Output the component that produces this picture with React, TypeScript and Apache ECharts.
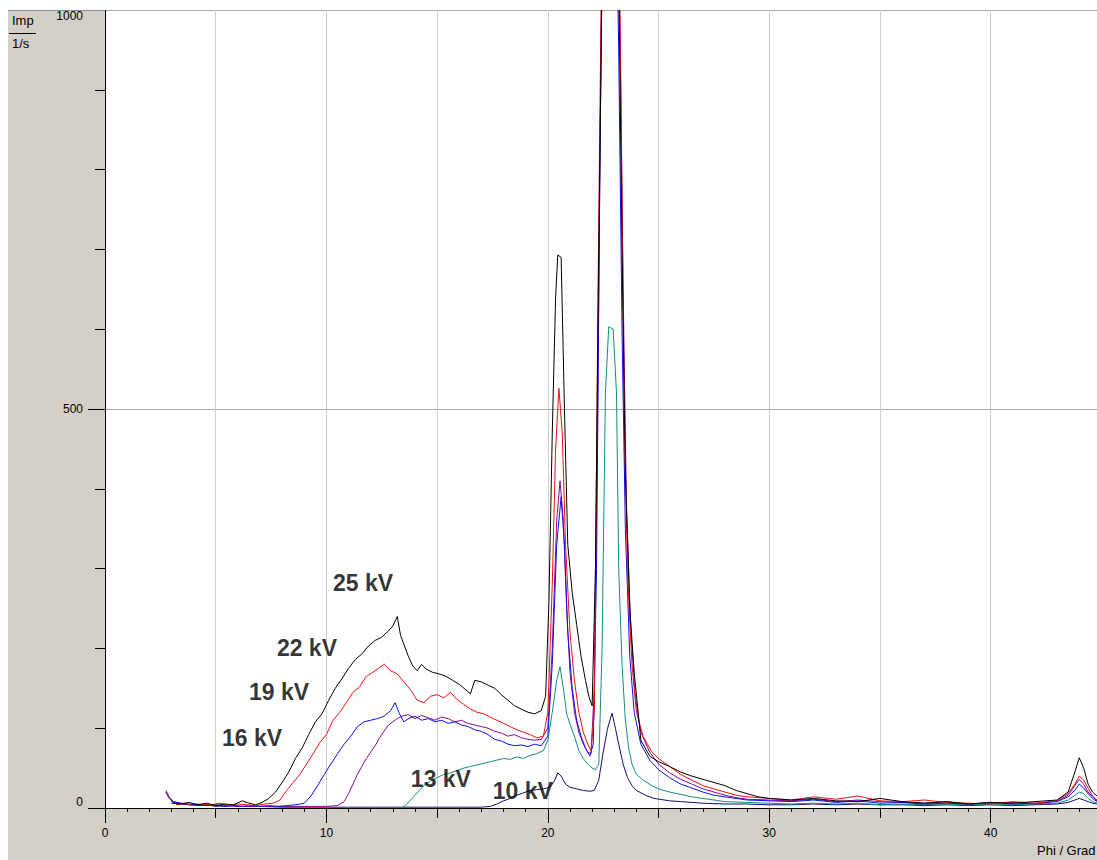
import React, { useEffect, useRef } from "react";
import * as echarts from "echarts";

const seriesNames = ["25 kV", "22 kV", "19 kV", "16 kV", "13 kV", "10 kV"];
const seriesColors = ["#000000", "#ee1111", "#1010ee", "#8a0a8a", "#10907a", "#101070"];

const kv25: number[][] = [
  [3.0, 6], [3.4, 5], [3.8, 7], [4.2, 4], [4.6, 6], [5.0, 3], [5.4, 5], [5.8, 4], [6.2, 9], [6.5, 6],
  [6.8, 4], [7.1, 7], [7.4, 12], [7.7, 20], [8.0, 32], [8.3, 45], [8.6, 62], [8.9, 75], [9.2, 92],
  [9.5, 108], [9.8, 118], [10.1, 135], [10.4, 150], [10.7, 162], [11.0, 175], [11.3, 186], [11.6, 193],
  [11.9, 203], [12.2, 210], [12.5, 214], [12.8, 222], [13.0, 228], [13.2, 240], [13.35, 216], [13.5, 205],
  [13.7, 190], [13.9, 178], [14.1, 172], [14.3, 180], [14.5, 174], [14.8, 170], [15.1, 168], [15.4, 165],
  [15.7, 160], [16.0, 155], [16.3, 148], [16.5, 143], [16.7, 160], [17.0, 158], [17.3, 154], [17.6, 150],
  [17.9, 142], [18.2, 135], [18.5, 128], [18.8, 124], [19.1, 120], [19.4, 118], [19.7, 122], [19.9, 140],
  [20.05, 260], [20.2, 470], [20.35, 640], [20.45, 693], [20.6, 690], [20.75, 500], [20.9, 330],
  [21.1, 270], [21.3, 230], [21.5, 190], [21.7, 160], [21.85, 140], [22.0, 128], [22.15, 300],
  [22.3, 700], [22.45, 1050], [22.7, 1300], [23.0, 1250], [23.2, 1050], [23.35, 700], [23.5, 420],
  [23.7, 250], [23.9, 170], [24.2, 85], [24.6, 65], [25.0, 58], [25.5, 52], [26.0, 45], [26.5, 40],
  [27.0, 36], [27.5, 32], [28.0, 28], [28.5, 22], [29.0, 18], [29.5, 14], [30, 12], [31, 10], [32, 12],
  [33, 9], [34, 8], [35, 12], [35.5, 10], [36, 8], [37, 6], [38, 8], [39, 5], [40, 7], [41, 6], [42, 8],
  [43, 10], [43.5, 20], [43.8, 45], [44.0, 63], [44.2, 50], [44.4, 30], [44.6, 20], [44.8, 15],
];

const kv22: number[][] = [
  [3.2, 4], [3.6, 6], [4.0, 3], [4.4, 5], [4.8, 4], [5.2, 6], [5.6, 3], [6.0, 5], [6.4, 4], [6.8, 3],
  [7.2, 5], [7.6, 6], [7.9, 10], [8.2, 22], [8.5, 32], [8.8, 42], [9.1, 55], [9.4, 68], [9.7, 82],
  [10.0, 92], [10.3, 110], [10.6, 120], [10.9, 132], [11.2, 145], [11.5, 152], [11.8, 165], [12.1, 170],
  [12.4, 176], [12.6, 180], [12.9, 172], [13.2, 168], [13.5, 158], [13.8, 148], [14.1, 135], [14.4, 132],
  [14.7, 140], [15.0, 142], [15.3, 138], [15.6, 145], [15.9, 136], [16.2, 130], [16.5, 124], [16.8, 120],
  [17.1, 118], [17.4, 114], [17.7, 110], [18.0, 106], [18.3, 102], [18.6, 98], [18.9, 95], [19.2, 92],
  [19.5, 88], [19.8, 90], [20.0, 120], [20.2, 280], [20.35, 450], [20.5, 526], [20.65, 470], [20.8, 330],
  [21.0, 220], [21.2, 160], [21.4, 120], [21.6, 95], [21.8, 80], [21.95, 72], [22.1, 120], [22.25, 600],
  [22.4, 1000], [22.6, 1400], [22.9, 1450], [23.15, 1200], [23.3, 900], [23.45, 500], [23.6, 290],
  [23.8, 180], [24.0, 120], [24.3, 90], [24.7, 70], [25.0, 62], [25.5, 52], [26.0, 42], [26.5, 35],
  [27.0, 28], [27.5, 24], [28.0, 20], [28.5, 16], [29.0, 14], [30, 12], [31, 10], [32, 14], [33, 11],
  [34, 15], [35, 9], [36, 8], [37, 10], [38, 7], [39, 6], [40, 5], [41, 8], [42, 6], [43, 9], [43.5, 18],
  [43.8, 30], [44.0, 40], [44.2, 35], [44.4, 25], [44.6, 15], [44.8, 10],
];

const kv19: number[][] = [
  [3.0, 8], [3.4, 6], [3.8, 5], [4.2, 4], [4.6, 3], [5.0, 4], [5.4, 2], [5.8, 3], [6.2, 2], [6.6, 3],
  [7.0, 2], [7.4, 3], [7.8, 2], [8.2, 3], [8.6, 4], [9.0, 6], [9.3, 15], [9.6, 28], [9.9, 42], [10.2, 55],
  [10.5, 68], [10.8, 80], [11.1, 90], [11.4, 102], [11.7, 108], [12.0, 110], [12.3, 112], [12.6, 115],
  [12.9, 122], [13.1, 132], [13.3, 118], [13.5, 108], [13.7, 112], [14.0, 115], [14.3, 110], [14.6, 112],
  [14.9, 108], [15.2, 110], [15.5, 106], [15.8, 108], [16.1, 104], [16.4, 102], [16.7, 98], [17.0, 96],
  [17.3, 92], [17.6, 86], [17.9, 84], [18.2, 80], [18.5, 78], [18.8, 79], [19.1, 77], [19.4, 80],
  [19.7, 78], [20.0, 90], [20.2, 180], [20.4, 330], [20.6, 390], [20.75, 330], [20.9, 220], [21.1, 150],
  [21.3, 110], [21.5, 90], [21.7, 75], [21.9, 65], [22.05, 80], [22.2, 300], [22.35, 800], [22.5, 1200],
  [22.8, 1350], [23.05, 1200], [23.2, 950], [23.35, 600], [23.5, 350], [23.7, 190], [23.9, 120],
  [24.2, 80], [24.6, 60], [25.0, 48], [25.5, 38], [26.0, 30], [26.5, 25], [27.0, 20], [27.5, 16],
  [28.0, 14], [28.5, 12], [29, 10], [30, 9], [31, 8], [32, 10], [33, 7], [34, 9], [35, 6], [36, 7],
  [37, 5], [38, 6], [39, 5], [40, 7], [41, 5], [42, 6], [43, 8], [43.5, 14], [43.8, 22], [44.0, 30],
  [44.2, 25], [44.4, 18], [44.6, 12], [44.8, 8],
];

const kv16: number[][] = [
  [2.75, 22], [2.9, 14], [3.1, 8], [3.4, 6], [3.8, 4], [4.2, 5], [4.6, 3], [5.0, 4], [5.4, 2], [5.8, 3],
  [6.2, 2], [6.6, 2], [7.0, 2], [7.5, 2], [8, 2], [8.5, 2], [9, 2], [9.5, 2], [10, 2], [10.5, 3],
  [10.8, 8], [11.0, 18], [11.2, 30], [11.4, 42], [11.6, 52], [11.8, 62], [12.0, 70], [12.2, 78],
  [12.4, 88], [12.6, 96], [12.8, 104], [13.0, 108], [13.2, 112], [13.4, 115], [13.7, 117], [14.0, 112],
  [14.3, 116], [14.6, 113], [14.9, 110], [15.2, 114], [15.5, 112], [15.8, 108], [16.1, 110], [16.4, 106],
  [16.7, 104], [17.0, 102], [17.3, 100], [17.6, 96], [17.9, 94], [18.2, 90], [18.5, 92], [18.8, 88],
  [19.1, 86], [19.4, 85], [19.7, 86], [20.0, 100], [20.2, 200], [20.4, 360], [20.55, 410], [20.7, 360],
  [20.85, 250], [21.0, 170], [21.2, 120], [21.4, 95], [21.6, 80], [21.8, 70], [21.95, 68], [22.1, 150],
  [22.25, 500], [22.4, 950], [22.6, 1300], [22.9, 1380], [23.1, 1250], [23.25, 1000], [23.4, 650],
  [23.55, 380], [23.75, 220], [23.95, 140], [24.2, 95], [24.6, 70], [25.0, 55], [25.5, 44], [26.0, 36],
  [26.5, 30], [27.0, 24], [27.5, 20], [28.0, 16], [28.5, 13], [29, 11], [30, 10], [31, 9], [32, 11],
  [33, 8], [34, 10], [35, 8], [36, 7], [37, 6], [38, 8], [39, 5], [40, 6], [41, 7], [42, 5], [43, 9],
  [43.5, 16], [43.8, 28], [44.0, 36], [44.2, 30], [44.4, 20], [44.6, 14], [44.8, 9],
];

const kv13: number[][] = [
  [13.4, 0], [13.6, 4], [13.8, 10], [14.0, 16], [14.2, 22], [14.4, 28], [14.7, 34], [15.0, 38],
  [15.3, 42], [15.6, 44], [15.9, 47], [16.2, 50], [16.5, 52], [16.8, 54], [17.1, 56], [17.4, 58],
  [17.7, 60], [18.0, 62], [18.3, 61], [18.6, 64], [18.9, 62], [19.2, 66], [19.5, 68], [19.8, 72],
  [20.0, 85], [20.2, 120], [20.4, 160], [20.55, 177], [20.7, 150], [20.85, 118], [21.0, 105],
  [21.2, 90], [21.4, 72], [21.6, 62], [21.8, 55], [22.0, 50], [22.15, 48], [22.3, 55], [22.45, 200],
  [22.6, 520], [22.75, 603], [22.95, 600], [23.1, 520], [23.2, 300], [23.35, 180], [23.5, 110],
  [23.65, 75], [23.8, 55], [24.0, 42], [24.3, 35], [24.7, 28], [25.0, 24], [25.5, 20], [26.0, 17],
  [26.5, 14], [27.0, 12], [27.5, 10], [28, 8], [29, 7], [30, 6], [31, 5], [32, 6], [33, 5], [34, 6],
  [35, 4], [36, 5], [37, 4], [38, 5], [39, 4], [40, 5], [41, 4], [42, 5], [43, 6], [43.5, 10],
  [43.8, 16], [44.0, 20], [44.2, 18], [44.4, 12], [44.6, 8], [44.8, 6],
];

const kv10: number[][] = [
  [2.75, 20], [2.9, 12], [3.1, 7], [3.4, 5], [3.8, 4], [4.2, 3], [4.6, 4], [5, 2], [5.5, 3], [6, 2],
  [7, 2], [8, 1], [9, 1], [10, 1], [11, 1], [12, 1], [13, 1], [14, 1], [15, 1], [16, 1], [17, 1],
  [17.4, 2], [17.7, 5], [18.0, 9], [18.3, 12], [18.6, 16], [18.9, 19], [19.2, 22], [19.5, 23],
  [19.8, 24], [20.1, 26], [20.3, 34], [20.45, 44], [20.6, 40], [20.8, 30], [21.0, 26], [21.3, 24],
  [21.6, 22], [21.9, 21], [22.1, 22], [22.3, 35], [22.5, 70], [22.7, 100], [22.9, 119], [23.05, 100],
  [23.2, 80], [23.4, 55], [23.6, 38], [23.8, 28], [24.0, 22], [24.4, 16], [24.8, 12], [25.5, 9],
  [26, 8], [27, 6], [28, 5], [29, 5], [30, 4], [31, 4], [32, 5], [33, 4], [34, 5], [35, 4], [36, 4],
  [37, 3], [38, 4], [39, 3], [40, 4], [41, 3], [42, 4], [43, 5], [43.5, 7], [43.8, 10], [44.0, 12],
  [44.2, 10], [44.4, 8], [44.6, 6], [44.8, 5],
];

const seriesData = [kv25, kv22, kv19, kv16, kv13, kv10];

// label anchor positions in data coordinates
const labelPositions: number[][] = [
  [11.65, 282], [9.12, 200], [7.86, 145], [6.64, 88], [15.17, 36], [18.87, 21],
];

// x-axis tick bands: step (degrees) and tick length (px)
const xTickSteps = [1, 5, 10];
const xTickLengths = [4, 10, 15];

const xMax = 45;
const FONT = '"Liberation Sans", Arial, sans-serif';

const GRID_LEFT = 97;
const GRID_RIGHT = -4.4;
const PLOT_BOTTOM = 798; // chart-space y of the x axis line

export default function App() {
  const ref = useRef<HTMLDivElement>(null);
  useEffect(() => {
    if (!ref.current) return;
    const chart = echarts.init(ref.current, null, { renderer: "svg" });
    const black = () => ({ color: "#000000", width: 1 });

    // thin grids under the main plot that carry the x-axis tick marks
    const tickGrids = xTickLengths.map((len) => ({
      left: GRID_LEFT, right: GRID_RIGHT, top: PLOT_BOTTOM, height: len, show: false,
      containLabel: false, outerBoundsMode: "none",
    }));
    const tickXAxes = xTickSteps.map((step, i) => ({
      type: "value", gridIndex: i + 1, min: 0, max: xMax, interval: step,
      axisLine: { show: false }, axisTick: { show: false }, axisLabel: { show: false },
      splitLine: { show: true, lineStyle: { color: "#000000", width: 1 } },
    }));
    const tickYAxes = xTickSteps.map((_, i) => ({
      type: "value", gridIndex: i + 1, min: 0, max: 1, show: false,
      axisLine: { show: false }, axisTick: { show: false }, axisLabel: { show: false }, splitLine: { show: false },
    }));

    const option: any = {
      animation: false,
      backgroundColor: "#d4d0c8",
      textStyle: { fontFamily: FONT },
      grid: [
        {
          left: GRID_LEFT, top: 0, right: GRID_RIGHT, bottom: 850 - PLOT_BOTTOM, show: true,
          backgroundColor: "#ffffff", borderWidth: 0, containLabel: false, outerBoundsMode: "none",
        },
        ...tickGrids,
      ],
      xAxis: [
        {
          type: "value", gridIndex: 0, min: 0, max: xMax, interval: 10, position: "bottom",
          axisLine: { show: true, onZero: false, lineStyle: black() },
          axisTick: { show: true, length: 15, lineStyle: black() },
          axisLabel: { show: true, margin: 19, color: "#000", fontSize: 12, fontFamily: FONT, showMaxLabel: false },
          splitLine: { show: false },
        },
        {
          type: "value", gridIndex: 0, min: 0, max: xMax, interval: 5, position: "bottom",
          axisLine: { show: false, onZero: false },
          axisTick: { show: false },
          axisLabel: { show: false },
          splitLine: { show: true, lineStyle: { color: "#cfcfcf", width: 1 } },
        },
        ...tickXAxes,
      ],
      yAxis: [
        {
          type: "value", gridIndex: 0, min: 0, max: 1000, interval: 100, position: "left",
          axisLine: { show: true, onZero: false, lineStyle: black() },
          axisTick: { show: true, length: 10, lineStyle: black() },
          axisLabel: { show: false },
          splitLine: { show: false },
        },
        {
          type: "value", gridIndex: 0, min: 0, max: 1000, interval: 500, position: "left",
          axisLine: { show: false, onZero: false },
          axisTick: { show: true, length: 17, lineStyle: black() },
          axisLabel: {
            show: true, margin: 22, color: "#000", fontSize: 12, fontFamily: FONT,
            formatter: (v: number) => String(v),
            verticalAlignMinLabel: "bottom", verticalAlignMaxLabel: "top",
          },
          splitLine: { show: true, lineStyle: { color: "#a8a8a8", width: 1 } },
        },
        ...tickYAxes,
      ],
      graphic: [
        { id: "topline", type: "rect", shape: { x: 0, y: 0, width: 97, height: 1 }, style: { fill: "#8a8a8a" }, z: 10 },
        { id: "imp", type: "text", x: 4, y: 4, style: { text: "Imp", fill: "#000", font: `13px ${FONT}` }, z: 10 },
        { id: "unitline", type: "rect", shape: { x: 1, y: 23, width: 27, height: 1 }, style: { fill: "#000" }, z: 10 },
        { id: "per", type: "text", x: 4, y: 27, style: { text: "1/s", fill: "#000", font: `13px ${FONT}` }, z: 10 },
        { id: "xname", type: "text", x: 1029, y: 834, style: { text: "Phi / Grad", fill: "#000", font: `13px ${FONT}` }, z: 10 },
      ],
      series: [
        ...seriesData.map((d, i) => ({
          name: seriesNames[i],
          type: "line",
          data: d,
          xAxisIndex: 0,
          yAxisIndex: 0,
          showSymbol: false,
          symbol: "none",
          clip: true,
          lineStyle: { color: seriesColors[i], width: 1 },
          itemStyle: { color: seriesColors[i] },
          z: 10 - i,
        })),
        {
          type: "scatter",
          xAxisIndex: 0,
          yAxisIndex: 0,
          symbolSize: 0,
          silent: true,
          z: 20,
          data: labelPositions.map((p, i) => ({ name: seriesNames[i], value: p })),
          label: {
            show: true,
            position: "inside",
            formatter: (p: any) => p.name,
            color: "#000000",
            textBorderWidth: 0,
            fontSize: 23,
            fontWeight: "bold",
            fontFamily: FONT,
          },
        },
      ],
    };
    chart.setOption(option);
    return () => chart.dispose();
  }, []);
  return (
    <div style={{ position: "fixed", left: 0, top: 0, width: 1097, height: 860, background: "#ffffff" }}>
      <div ref={ref} style={{ position: "absolute", left: 8, top: 10, width: 1089, height: 850 }} />
    </div>
  );
}
